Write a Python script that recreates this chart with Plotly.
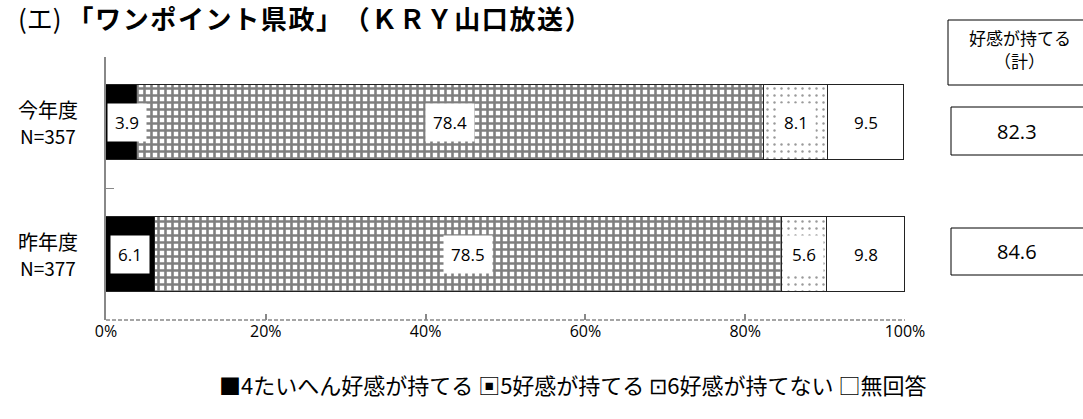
import plotly.graph_objects as go

# ---- data ----
categories = ["今年度", "昨年度"]
n_labels = ["N=357", "N=377"]
series_names = ["4たいへん好感が持てる", "5好感が持てる", "6好感が持てない", "無回答"]
s4 = [3.9, 6.1]
s5 = [78.4, 78.5]
s6 = [8.1, 5.6]
s_na = [9.5, 9.8]
totals = [82.3, 84.6]
x_ticks = [0, 20, 40, 60, 80, 100]
x_tick_labels = ["0%", "20%", "40%", "60%", "80%", "100%"]
title_prefix = "(エ)"
title_main = "「ワンポイント県政」（ＫＲＹ山口放送）"
box_header = ["好感が持てる", "（計）"]

W, H = 1083, 419
L, R, T, B = 106, 178, 57, 99
PW, PH = W - L - R, H - T - B


def px(xp):
    return (xp - L) / PW


def py(yp):
    return (H - B - yp) / PH


JP = "Noto Sans CJK JP"
NUM = "Open Sans"

fig = go.Figure()
styles = [
    dict(color="#000000"),
    dict(color="#ffffff", pattern=dict(shape="+", fgcolor="#000000", bgcolor="#ffffff", size=7, solidity=0.6)),
    dict(color="#ffffff", pattern=dict(shape=".", fgcolor="#333333", bgcolor="#ffffff", size=7, solidity=0.1)),
    dict(color="#ffffff"),
]
all_series = [s4, s5, s6, s_na]
for name, vals, st in zip(series_names, all_series, styles):
    fig.add_trace(go.Bar(
        name=name, y=categories, x=vals, orientation="h", width=0.57,
        marker=dict(line=dict(color="#222222", width=1), **st),
        showlegend=False, hoverinfo="x+name",
    ))

# data labels
annotations = []
for i, cat in enumerate(categories):
    cum = 0.0
    for vals in all_series:
        v = vals[i]
        mid = cum + v / 2
        annotations.append(dict(
            x=max(mid, 2.6), y=cat, xref="x", yref="y", text=f"{v:.1f}", showarrow=False,
            xanchor="center", yanchor="middle",
            font=dict(family=NUM, size=17, color="#000"), bgcolor="#ffffff", borderpad=7,
        ))
        cum += v

# category labels (two lines each)
for i, cat in enumerate(categories):
    cy = T + PH * (i + 0.5) / len(categories)
    annotations.append(dict(
        x=px(48), y=py(cy - 13), xref="paper", yref="paper", text=cat, showarrow=False,
        font=dict(family=JP, size=20, color="#000"), xanchor="center", yanchor="middle",
    ))
    annotations.append(dict(
        x=px(48), y=py(cy + 13), xref="paper", yref="paper", text=n_labels[i], showarrow=False,
        font=dict(family=JP, size=19, color="#000"), xanchor="center", yanchor="middle",
    ))

# title (hair spaces widen the letter spacing)
spaced = "\u200a".join(title_main)
annotations.append(dict(
    x=px(16), y=py(18), xref="paper", yref="paper", xanchor="left", yanchor="middle",
    text=f"{title_prefix} <b>{spaced}</b>", showarrow=False,
    font=dict(family=JP, size=26, color="#000"),
))

# legend as text
annotations.append(dict(
    x=px(572), y=py(384), xref="paper", yref="paper", xanchor="center", yanchor="middle",
    text="■" + series_names[0] + " ▣" + series_names[1] + " ⊡" + series_names[2] + " □" + series_names[3],
    showarrow=False, font=dict(family=JP, size=22, color="#000"),
))

# right boxes
shapes = []
shapes.append(dict(type="rect", xref="paper", yref="paper", x0=px(948), x1=px(1095), y0=py(85), y1=py(20),
                   line=dict(color="#000", width=1), fillcolor="rgba(0,0,0,0)"))
for txt, yy in zip(box_header, [38, 60]):
    annotations.append(dict(x=px(1020), y=py(yy), xref="paper", yref="paper", text=txt,
                            xanchor="center", yanchor="middle",
                            showarrow=False, font=dict(family=JP, size=17, color="#000")))
box_y = [(107, 155), (228, 275)]
for (y0, y1), tv in zip(box_y, totals):
    shapes.append(dict(type="rect", xref="paper", yref="paper", x0=px(951), x1=px(1095), y0=py(y1), y1=py(y0),
                       line=dict(color="#000", width=1), fillcolor="rgba(0,0,0,0)"))
    annotations.append(dict(x=px(1017), y=py((y0 + y1) / 2), xref="paper", yref="paper", text=f"{tv:.1f}",
                            xanchor="center", yanchor="middle",
                            showarrow=False, font=dict(family=NUM, size=20, color="#000")))

# dashed bottom axis line
shapes.append(dict(type="line", xref="paper", yref="paper", x0=0, x1=1, y0=0, y1=0,
                   line=dict(color="#888888", width=1.5, dash="4px,2px")))

fig.update_layout(
    width=W, height=H, barmode="stack", bargap=0,
    margin=dict(l=L, r=R, t=T, b=B),
    paper_bgcolor="#ffffff", plot_bgcolor="#ffffff",
    annotations=annotations, shapes=shapes,
    xaxis=dict(range=[0, 100], tickvals=x_ticks, ticktext=x_tick_labels, ticks="inside", ticklen=6,
               tickcolor="#888888", tickwidth=1.5, showline=False, showgrid=False, zeroline=False,
               tickfont=dict(family=NUM, size=16, color="#000")),
    yaxis=dict(autorange="reversed", showticklabels=False, ticks="inside", ticklen=8, tickson="boundaries",
               tickcolor="#888888", showline=True, linecolor="#888888", linewidth=1.5, showgrid=False,
               zeroline=False),
    font=dict(family=JP),
)

fig.write_html("out.html", config={"displayModeBar": False},
               post_script="document.body.style.margin='0';")
